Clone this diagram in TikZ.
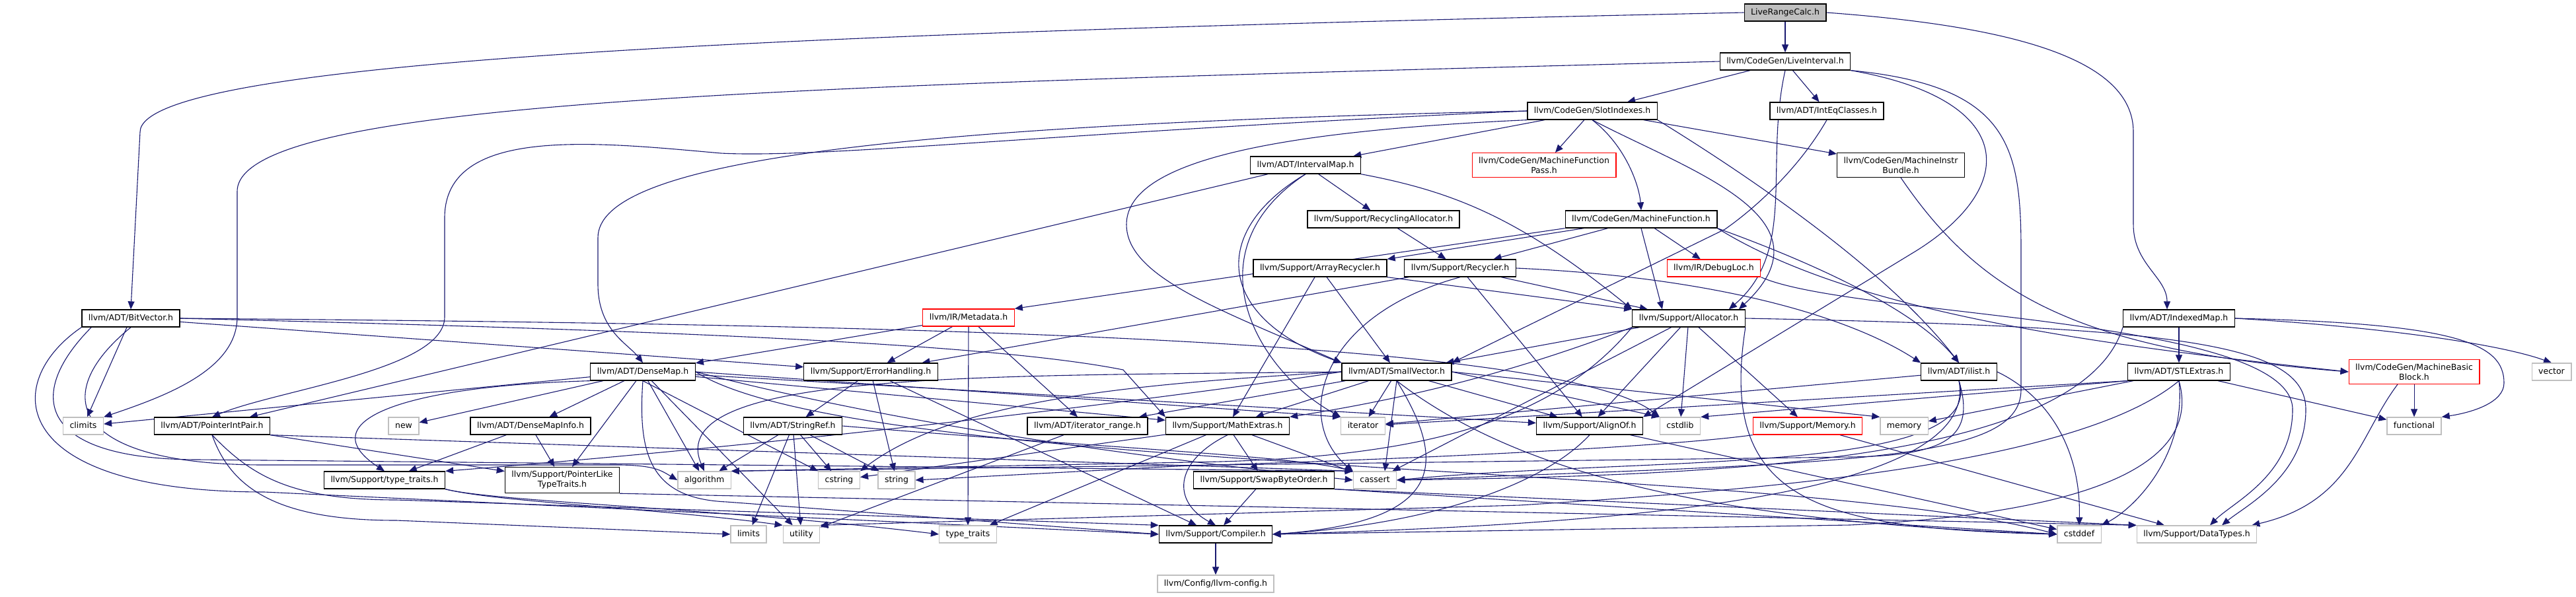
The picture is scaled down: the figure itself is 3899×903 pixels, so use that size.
\documentclass[tikz,border=0pt]{standalone}
\usepackage{fontspec}
\setmainfont{DejaVu Sans}
\usetikzlibrary{arrows.meta,backgrounds}
\definecolor{edgeblue}{HTML}{191970}
\definecolor{boxgray}{HTML}{BFBFBF}
\begin{document}
\begin{tikzpicture}[x=1pt, y=-1pt,
    box/.style={draw=black, fill=white, line width=1.3pt, minimum height=26pt,
      inner xsep=10pt, font=\fontsize{12.5}{15}\selectfont},
    hdr/.style={box, inner ysep=0pt, text height=9.5pt, text depth=3pt},
    hdr2/.style={box, align=center, inner ysep=6pt},
    sys/.style={hdr, draw=boxgray},
    trunc/.style={hdr, draw=red},
    trunc2/.style={hdr2, draw=red},
    root/.style={hdr, fill=boxgray},
    dep/.style={draw=edgeblue, line width=1.1pt, -{Triangle[length=12pt,width=10pt]}}]
    \useasboundingbox (0,0) rectangle (3899,903);

    % Headers, row by row
    \node[root] (lrc) at (2702,19) {LiveRangeCalc.h};
    \node[hdr] (liveint) at (2702,93) {llvm/CodeGen/LiveInterval.h};
    \node[hdr] (slotidx) at (2410,168) {llvm/CodeGen/SlotIndexes.h};
    \node[hdr] (inteq) at (2765,168) {llvm/ADT/IntEqClasses.h};
    \node[hdr] (ivmap) at (1976,250) {llvm/ADT/IntervalMap.h};
    \node[trunc2] (mfpass) at (2337,250) {llvm/CodeGen/MachineFunction\\Pass.h};
    \node[hdr2] (mibundle) at (2877,250) {llvm/CodeGen/MachineInstr\\Bundle.h};
    \node[hdr] (recalloc) at (2094,332) {llvm/Support/RecyclingAllocator.h};
    \node[hdr] (mfunc) at (2484,332) {llvm/CodeGen/MachineFunction.h};
    \node[hdr] (arrrec) at (1998,406) {llvm/Support/ArrayRecycler.h};
    \node[hdr] (recycler) at (2210,406) {llvm/Support/Recycler.h};
    \node[trunc] (debugloc) at (2594,406) {llvm/IR/DebugLoc.h};
    \node[hdr] (bitvec) at (198,482) {llvm/ADT/BitVector.h};
    \node[trunc] (metadata) at (1466,481) {llvm/IR/Metadata.h};
    \node[hdr] (alloc) at (2556,482) {llvm/Support/Allocator.h};
    \node[hdr] (idxmap) at (3298,482) {llvm/ADT/IndexedMap.h};
    \node[hdr] (densemap) at (973,563) {llvm/ADT/DenseMap.h};
    \node[hdr] (errhand) at (1318,563) {llvm/Support/ErrorHandling.h};
    \node[hdr] (smallvec) at (2114,563) {llvm/ADT/SmallVector.h};
    \node[hdr] (ilist) at (2965,563) {llvm/ADT/ilist.h};
    \node[hdr] (stlext) at (3298,563) {llvm/ADT/STLExtras.h};
    \node[trunc2] (mbb) at (3654,563) {llvm/CodeGen/MachineBasic\\Block.h};
    \node[sys] (vector) at (3862,563) {vector};
    \node[sys] (climits) at (126,645) {climits};
    \node[hdr] (ptrintpair) at (321,645) {llvm/ADT/PointerIntPair.h};
    \node[sys] (new) at (611,645) {new};
    \node[hdr] (dmapinfo) at (803,645) {llvm/ADT/DenseMapInfo.h};
    \node[hdr] (strref) at (1200,645) {llvm/ADT/StringRef.h};
    \node[hdr] (itrange) at (1646,645) {llvm/ADT/iterator\_range.h};
    \node[hdr] (mathext) at (1858,645) {llvm/Support/MathExtras.h};
    \node[sys] (iterator) at (2063,645) {iterator};
    \node[hdr] (alignof) at (2406,645) {llvm/Support/AlignOf.h};
    \node[sys] (cstdlib) at (2543,645) {cstdlib};
    \node[trunc] (memoryh) at (2736,645) {llvm/Support/Memory.h};
    \node[sys] (memory) at (2882,645) {memory};
    \node[sys] (functional) at (3654,645) {functional};
    \node[hdr] (typetraitsh) at (582,727) {llvm/Support/type\_traits.h};
    \node[hdr2] (ptrlike) at (851,727) {llvm/Support/PointerLike\\TypeTraits.h};
    \node[sys] (algorithm) at (1066,727) {algorithm};
    \node[sys] (cstring) at (1270,727) {cstring};
    \node[sys] (string) at (1357,727) {string};
    \node[hdr] (swapbyte) at (1913,727) {llvm/Support/SwapByteOrder.h};
    \node[sys] (cassert) at (2081,727) {cassert};
    \node[sys] (limits) at (1133,809) {limits};
    \node[sys] (utility) at (1213,809) {utility};
    \node[sys] (typetraits) at (1465,809) {type\_traits};
    \node[hdr] (compiler) at (1840,809) {llvm/Support/Compiler.h};
    \node[sys] (cstddef) at (3147,809) {cstddef};
    \node[sys] (datatypes) at (3325,809) {llvm/Support/DataTypes.h};
    \node[sys] (llvmconfig) at (1840,884) {llvm/Config/llvm-config.h};

    \begin{pgfonlayer}{background}
    % LiveRangeCalc.h
    \draw[dep] (lrc) -- (liveint);
    \draw[dep] (lrc.west) .. controls (1200,50) and (212,90) .. (212,200) -- (bitvec.north);
    \draw[dep] (lrc.east) .. controls (3050,40) and (3229,90) .. (3229,200) -- (3229,340) .. controls (3229,400) and (3280,420) .. ([xshift=-18pt]idxmap.north);

    % BitVector.h
    \draw[dep] (bitvec) -- (climits);
    \draw[dep] (bitvec) -- (errhand);
    \draw[dep] (bitvec.east) .. controls (1000,500) and (1500,520) .. (1700,560) -- (mathext.north west);
    \draw[dep] (bitvec.east) .. controls (1200,490) and (2350,505) .. (cstdlib.north west);
    \draw[dep] (bitvec.south) .. controls (70,600) and (110,704) .. (400,704) -- (940,704) .. controls (990,705) and (1000,712) .. (algorithm.west);
    \draw[dep] ([xshift=15pt]bitvec.south west) .. controls (35,600) and (60,696) .. (300,696) -- (cassert.north west);
    \draw[dep] (bitvec.south west) .. controls (0,580) and (10,745) .. (400,745) -- (compiler.west);

    % LiveInterval.h
    \draw[dep] (liveint) -- (slotidx);
    \draw[dep] (liveint) -- (inteq);
    \draw[dep] (liveint.west) .. controls (1200,130) and (359,150) .. (359,290) -- (359,480) .. controls (359,560) and (250,600) .. (climits.north east);
    \draw[dep] (liveint.south) .. controls (2670,250) and (2720,380) .. ([xshift=-25pt]alloc.north east);
    \draw[dep] (liveint.south east) .. controls (3050,150) and (3060,280) .. (2900,380) -- (alignof.north east);
    \draw[dep] (liveint.south east) .. controls (3040,130) and (3059,220) .. (3059,380) -- (3059,590) .. controls (3059,700) and (2800,700) .. (cassert.east);

    % IndexedMap.h
    \draw[dep] (idxmap) -- (stlext);
    \draw[dep] (idxmap.east) .. controls (3600,495) and (3780,520) .. (vector.north);
    \draw[dep] (idxmap.east) .. controls (3720,490) and (3790,520) .. (3790,580) .. controls (3790,610) and (3740,625) .. (functional.north east);
    \draw[dep] (idxmap.south west) .. controls (3150,700) and (2600,720) .. (cassert.east);

    % SlotIndexes.h
    \draw[dep] (slotidx) -- (ivmap);
    \draw[dep] (slotidx) -- (mfpass);
    \draw[dep] (slotidx) -- (mibundle);
    \draw[dep] (slotidx.south) .. controls (2460,220) and (2481,280) .. (mfunc.north);
    \draw[dep] (slotidx.west) .. controls (1300,190) and (905,250) .. (905,360) -- (905,430) .. controls (905,500) and (950,520) .. (densemap.north);
    \draw[dep] (slotidx.west) .. controls (1600,200) and (1250,240) .. (1091,232) .. controls (900,215) and (673,190) .. (673,330) -- (673,480) .. controls (673,560) and (420,590) .. (ptrintpair.north);
    \draw[dep] (slotidx.south west) .. controls (1900,200) and (1705,250) .. (1705,340) .. controls (1705,420) and (1850,470) .. (smallvec.north west);
    \draw[dep] (slotidx.south) .. controls (2560,260) and (2780,330) .. ([xshift=-10pt]alloc.north east);
    \draw[dep] (slotidx.south east) .. controls (2620,250) and (2850,400) .. (ilist.north);

    % IntEqClasses.h, IntervalMap.h, MachineInstrBundle.h, RecyclingAllocator.h
    \draw[dep] (inteq.south) .. controls (2720,260) and (2650,320) .. (2611,347) -- (smallvec.north east);
    \draw[dep] (ivmap) -- (recalloc);
    \draw[dep] (ivmap) -- (ptrintpair);
    \draw[dep] (ivmap.south) .. controls (1830,350) and (1840,480) .. (smallvec.north west);
    \draw[dep] (ivmap.south) .. controls (1800,380) and (1900,560) .. (iterator.north west);
    \draw[dep] (ivmap.south east) .. controls (2200,290) and (2300,330) .. (alloc.north west);
    \draw[dep] (mibundle.south) .. controls (3000,450) and (3150,530) .. (mbb.west);
    \draw[dep] (recalloc) -- (recycler);

    % MachineFunction.h
    \draw[dep] (mfunc) -- (debugloc);
    \draw[dep] (mfunc) -- (recycler);
    \draw[dep] (mfunc.south) -- ([xshift=-40pt]alloc.north);
    \draw[dep] (mfunc) -- (arrrec.north east);
    \draw[dep] (mfunc.south west) -- (metadata.north east);
    \draw[dep] (mfunc.south east) .. controls (2750,400) and (2900,470) .. (ilist.north);
    \draw[dep] (mfunc.south east) .. controls (2800,470) and (3150,520) .. (mbb.west);

    % ArrayRecycler.h, Recycler.h, DebugLoc.h
    \draw[dep] (arrrec) -- (smallvec);
    \draw[dep] (arrrec) -- (mathext);
    \draw[dep] (arrrec.south east) -- (alloc.north west);
    \draw[dep] (recycler) -- (alloc);
    \draw[dep] (recycler) -- (alignof);
    \draw[dep] (recycler) -- (errhand);
    \draw[dep] (recycler.east) .. controls (2600,420) and (2800,480) .. (ilist.north west);
    \draw[dep] (recycler.south) .. controls (1990,480) and (1960,640) .. (cassert.north west);
    \draw[dep] (debugloc.south east) .. controls (2800,480) and (3470,480) .. (3470,620) .. controls (3470,720) and (3380,760) .. ([xshift=20pt]datatypes.north);

    % Allocator.h
    \draw[dep] (alloc) -- (smallvec);
    \draw[dep] (alloc) -- (alignof);
    \draw[dep] (alloc) -- (cstdlib);
    \draw[dep] (alloc) -- (memoryh);
    \draw[dep] (alloc) -- (cassert);
    \draw[dep] (alloc.south west) .. controls (2300,560) and (2150,600) .. (mathext.north east);
    \draw[dep] (alloc.south east) .. controls (2600,760) and (2750,800) .. (cstddef.west);
    \draw[dep] (alloc.south west) .. controls (2350,640) and (2150,695) .. (1800,700) -- (algorithm.north east);
    \draw[dep] (alloc.east) .. controls (3300,495) and (3490,520) .. (3490,620) .. controls (3490,720) and (3400,765) .. ([xshift=38pt]datatypes.north);

    % Metadata.h
    \draw[dep] (metadata) -- (densemap);
    \draw[dep] (metadata) -- (errhand);
    \draw[dep] (metadata) -- (itrange);
    \draw[dep] (metadata) -- (typetraits);

    % DenseMap.h
    \draw[dep] (densemap) -- (climits);
    \draw[dep] (densemap) -- (new);
    \draw[dep] (densemap) -- (dmapinfo);
    \draw[dep] (densemap) -- (ptrlike);
    \draw[dep] (densemap) -- (algorithm);
    \draw[dep] (densemap.south) -- (cstring.north west);
    \draw[dep] (densemap) -- (utility);
    \draw[dep] (densemap) -- (mathext);
    \draw[dep] (densemap.east) -- (iterator.north west);
    \draw[dep] (densemap) -- (alignof);
    \draw[dep] (densemap.south west) .. controls (600,585) and (470,640) .. (typetraitsh.north);
    \draw[dep] (densemap.south) .. controls (965,690) and (985,755) .. (1100,760) -- (compiler.west);
    \draw[dep] (densemap.east) .. controls (1350,640) and (1700,690) .. (cassert.west);
    \draw[dep] (densemap.east) .. controls (1300,720) and (2700,700) .. (cstddef.west);

    % ErrorHandling.h
    \draw[dep] (errhand) -- (strref);
    \draw[dep] (errhand) -- (string);
    \draw[dep] (errhand) -- (compiler);

    % SmallVector.h
    \draw[dep] (smallvec) -- (itrange);
    \draw[dep] (smallvec) -- (mathext);
    \draw[dep] (smallvec) -- (iterator);
    \draw[dep] (smallvec) -- (alignof);
    \draw[dep] (smallvec.east) -- (cstdlib.north west);
    \draw[dep] (smallvec.east) -- (memory.north west);
    \draw[dep] (smallvec.south) -- ([xshift=15pt]cassert.north);
    \draw[dep] (smallvec.west) .. controls (1650,620) and (1100,680) .. (typetraitsh.north east);
    \draw[dep] (smallvec.west) .. controls (1500,570) and (1000,560) .. (algorithm.north);
    \draw[dep] (smallvec.west) .. controls (1750,580) and (1450,600) .. (cstring.north east);
    \draw[dep] (smallvec.south) .. controls (2190,700) and (2190,790) .. (compiler.east);
    \draw[dep] (smallvec.south) .. controls (2300,720) and (2600,790) .. (cstddef.west);

    % ilist.h
    \draw[dep] (ilist) -- (iterator);
    \draw[dep] (ilist.east) .. controls (3100,600) and (3150,680) .. (cstddef.north);
    \draw[dep] (ilist.south) .. controls (3010,720) and (2500,690) .. (cassert.east);
    \draw[dep] (ilist.south) .. controls (3000,760) and (2400,795) .. (compiler.east);
    \draw[dep] (ilist.south) .. controls (2990,660) and (2950,690) .. (2800,692) -- (algorithm.north east);

    % STLExtras.h, MachineBasicBlock.h
    \draw[dep] (stlext) -- (functional);
    \draw[dep] (stlext) -- (memory);
    \draw[dep] (stlext.south west) -- (iterator);
    \draw[dep] (stlext.south west) -- (cstdlib.north east);
    \draw[dep] (stlext.south) .. controls (3150,700) and (2700,740) .. (2300,765) -- (utility.north east);
    \draw[dep] (stlext.south) .. controls (3330,690) and (3200,775) .. (2800,795) -- (compiler.east);
    \draw[dep] (stlext.south) .. controls (3310,690) and (3230,770) .. (cstddef.north east);
    \draw[dep] (mbb) -- (functional);
    \draw[dep] ([xshift=-25pt]mbb.south) .. controls (3570,660) and (3560,760) .. ([xshift=-8pt]datatypes.north east);

    % PointerIntPair.h, DenseMapInfo.h, StringRef.h, iterator_range.h
    \draw[dep] (ptrintpair) -- (ptrlike);
    \draw[dep] (ptrintpair.south east) -- (cassert.north west);
    \draw[dep] (ptrintpair.south) .. controls (350,740) and (420,788) .. (600,788) -- (limits.west);
    \draw[dep] (ptrintpair.south) .. controls (380,720) and (440,757) .. (600,757) -- (compiler.north west);
    \draw[dep] (dmapinfo) -- (ptrlike);
    \draw[dep] (dmapinfo) -- (typetraitsh);
    \draw[dep] (strref) -- (algorithm);
    \draw[dep] (strref) -- (cstring);
    \draw[dep] (strref) -- (string);
    \draw[dep] (strref) -- (limits);
    \draw[dep] (strref) -- (utility);
    \draw[dep] (strref.east) .. controls (1700,680) and (1950,690) .. (cassert.north west);
    \draw[dep] (itrange) -- (utility);

    % MathExtras.h, AlignOf.h, Memory.h
    \draw[dep] (mathext) -- (swapbyte);
    \draw[dep] (mathext) -- (cassert);
    \draw[dep] (mathext) -- (typetraits);
    \draw[dep] (mathext) -- (cstring);
    \draw[dep] (mathext.south) .. controls (1775,700) and (1775,760) .. (compiler.north);
    \draw[dep] (alignof) -- (cstddef);
    \draw[dep] (alignof.south) .. controls (2330,740) and (2150,795) .. (compiler.east);
    \draw[dep] (memoryh) -- (datatypes);
    \draw[dep] (memoryh.south west) .. controls (2500,680) and (2000,700) .. (1800,705) -- (string.east);

    % type_traits.h, PointerLikeTypeTraits.h, SwapByteOrder.h, Compiler.h
    \draw[dep] (typetraitsh.south east) .. controls (750,760) and (1100,770) .. (typetraits.west);
    \draw[dep] (typetraitsh.south east) .. controls (750,760) and (1000,770) .. (utility.north west);
    \draw[dep] (ptrlike.south east) -- (datatypes.north west);
    \draw[dep] (swapbyte) -- (compiler);
    \draw[dep] (swapbyte.south east) -- (cstddef.west);
    \draw[dep] (swapbyte.south east) -- (datatypes.north west);
    \draw[dep] (compiler) -- (llvmconfig);
    \end{pgfonlayer}
\end{tikzpicture}
\end{document}
